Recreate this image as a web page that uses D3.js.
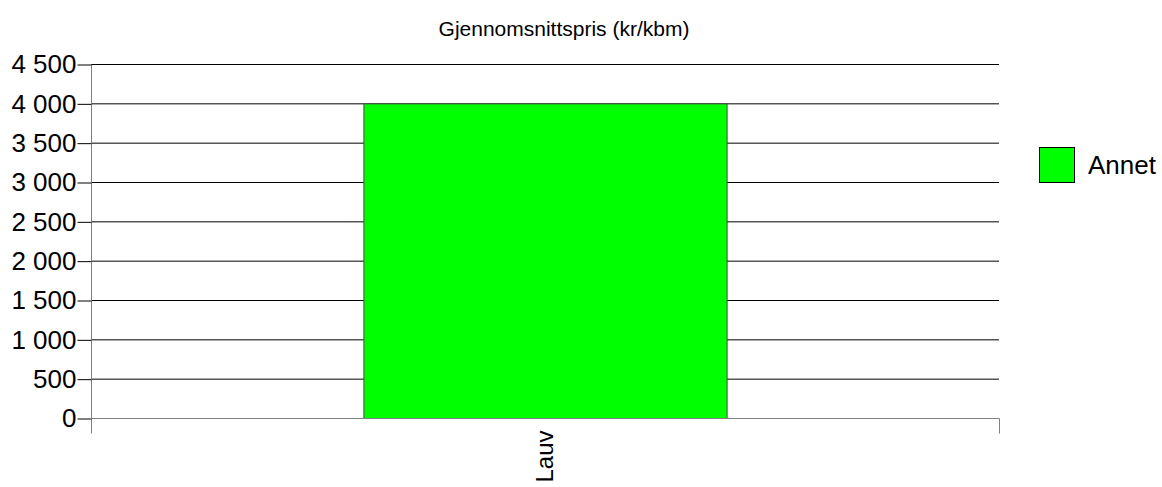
<!DOCTYPE html>
<html><head><meta charset="utf-8">
<script src="https://cdn.jsdelivr.net/npm/d3@7"></script>
<style>body{margin:0;background:#fff}svg{display:block;font-family:"Liberation Sans",Arial,sans-serif}</style>
</head><body>
<svg id="c" width="1162" height="487"></svg>
<script>
const categories = ["Lauv"];
const seriesNames = ["Annet"];
const values = [4000];
const yTicks = [0, 500, 1000, 1500, 2000, 2500, 3000, 3500, 4000, 4500];
const title = "Gjennomsnittspris (kr/kbm)";
const colors = ["#00ff00"];

const svg = d3.select("#c");
const L = 91, R = 999, T = 64, B = 418;
const x = d3.scaleBand().domain(categories).range([L, R]).paddingInner(0).paddingOuter(0.75);
const y = d3.scaleLinear().domain([0, 4500]).range([B, T]);
const fmt = v => d3.format(",")(v).replace(/,/g, " ");

svg.append("text").attr("x", 564).attr("y", 36).attr("text-anchor", "middle")
  .attr("font-size", 21).text(title);

// grid
svg.append("g").selectAll("line").data(yTicks).join("line")
  .attr("x1", L).attr("x2", R).attr("y1", d => y(d)+0.5).attr("y2", d => y(d)+0.5)
  .attr("stroke", "#000").attr("stroke-width", 1);

// bars
svg.append("g").selectAll("rect").data(values).join("rect")
  .attr("x", (d, i) => x(categories[i]) + 0.5).attr("y", d => y(d) + 0.5)
  .attr("width", x.bandwidth()).attr("height", d => B - y(d))
  .attr("fill", colors[0]).attr("stroke", "#4a4a4a").attr("stroke-width", 1);

// y axis
const ya = svg.append("g").attr("transform", `translate(${L+0.5},0.5)`)
  .call(d3.axisLeft(y).tickValues(yTicks).tickFormat(fmt).tickSize(14).tickPadding(1));
ya.select(".domain").attr("stroke", "#808080").attr("d", `M0,${T}V${B+15}`);
ya.selectAll(".tick line").attr("stroke", "#000");
ya.selectAll(".tick text").attr("font-size", 26).attr("fill", "#000")
  .attr("font-family", '"Liberation Sans",Arial,sans-serif');

// x axis
const xa = svg.append("g").attr("transform", `translate(0,${B+0.5})`);
xa.append("line").attr("x1", L).attr("x2", R+0.5).attr("stroke", "#808080");
xa.append("line").attr("x1", R+0.5).attr("x2", R+0.5).attr("y1", 0).attr("y2", 15).attr("stroke", "#808080");
xa.selectAll("text.cat").data(categories).join("text").attr("class", "cat")
  .attr("transform", d => `translate(${x(d) + x.bandwidth()/2},12) rotate(-90)`)
  .attr("text-anchor", "end").attr("dy", "0.35em").attr("font-size", 24).text(d => d);

// legend
const lg = svg.append("g");
seriesNames.forEach((s, i) => {
  lg.append("rect").attr("x", 1039.5).attr("y", 147.5 + i*40).attr("width", 35).attr("height", 35)
    .attr("fill", colors[i]).attr("stroke", "#000");
  lg.append("text").attr("x", 1088).attr("y", 165 + i*40).attr("dy", "0.35em")
    .attr("font-size", 26).text(s);
});
</script>
</body></html>
